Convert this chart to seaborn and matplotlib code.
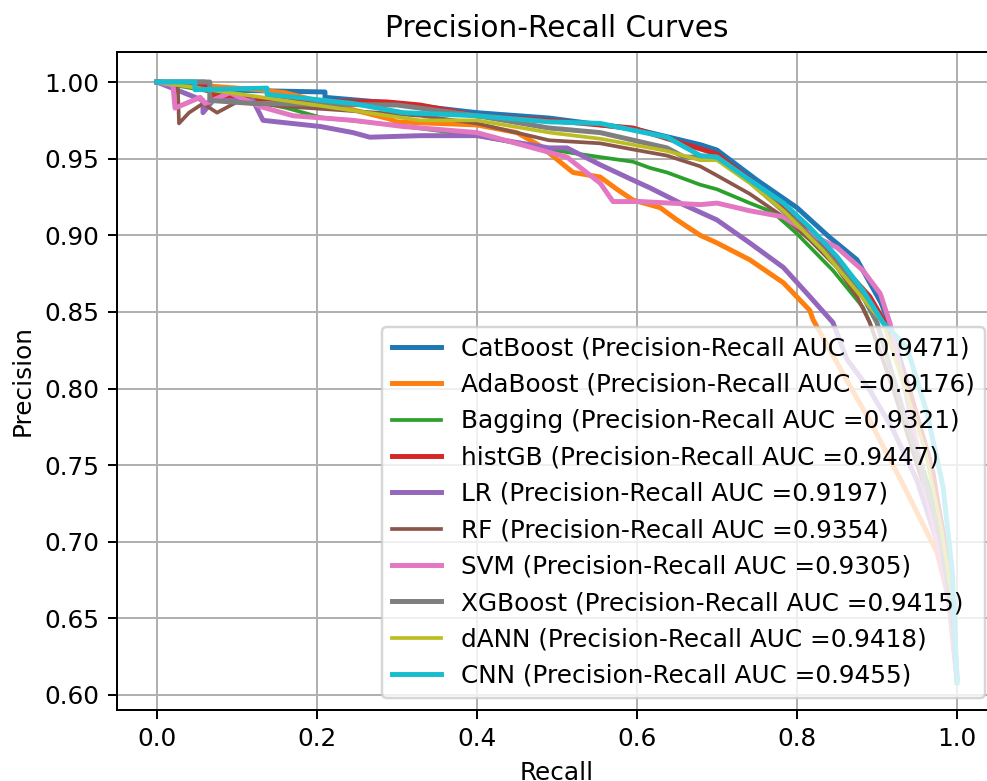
"""Precision-recall curves for the ten classifiers."""

import matplotlib
matplotlib.use("Agg")
import matplotlib.pyplot as plt
import numpy as np
import pandas as pd
import seaborn as sns

MODELS = ["CatBoost", "AdaBoost", "Bagging", "histGB", "LR", "RF", "SVM", "XGBoost", "dANN", "CNN"]
AUC = [0.9471, 0.9176, 0.9321, 0.9447, 0.9197, 0.9354, 0.9305, 0.9415, 0.9418, 0.9455]

catboost_recall = [0, 0.06, 0.06, 0.21, 0.21, 0.30, 0.40, 0.49, 0.60, 0.68, 0.70, 0.75, 0.80, 0.84,
                   0.875, 0.905, 0.915, 0.94, 0.965, 0.985, 0.995, 1.0]
catboost_precision = [1.0, 1.0, 0.995, 0.9935, 0.990, 0.986, 0.980, 0.9765, 0.969, 0.959, 0.9556, 0.936,
                      0.918, 0.899, 0.884, 0.856, 0.843, 0.80, 0.755, 0.70, 0.66, 0.61]

adaboost_recall = [0, 0.125, 0.16, 0.29, 0.30, 0.40, 0.45, 0.48, 0.52, 0.554, 0.575, 0.595, 0.629, 0.65,
                   0.679, 0.70, 0.741, 0.783, 0.816, 0.82, 0.8625, 0.891, 0.93, 0.975, 0.991, 1.0]
adaboost_precision = [1.0, 0.995, 0.993, 0.976, 0.974, 0.972, 0.967, 0.958, 0.941, 0.938, 0.930, 0.923,
                      0.918, 0.910, 0.900, 0.895, 0.884, 0.869, 0.851, 0.845, 0.805, 0.779, 0.740, 0.693,
                      0.66, 0.61]

bagging_recall = [0, 0.054, 0.1625, 0.204, 0.295, 0.40, 0.49, 0.554, 0.595, 0.616, 0.6375, 0.679, 0.70,
                  0.741, 0.77, 0.80, 0.845, 0.8825, 0.891, 0.92, 0.95, 0.975, 0.99, 1.0]
bagging_precision = [1.0, 0.995, 0.983, 0.977, 0.972, 0.965, 0.956, 0.951, 0.948, 0.944, 0.941, 0.933,
                     0.930, 0.921, 0.915, 0.901, 0.877, 0.853, 0.843, 0.80, 0.76, 0.72, 0.68, 0.61]

histgb_recall = [0, 0.06, 0.07, 0.17, 0.2875, 0.329, 0.40, 0.49, 0.595, 0.70, 0.80, 0.891, 0.91, 0.94,
                 0.97, 0.99, 1.0]
histgb_precision = [1.0, 0.998, 0.991, 0.988, 0.987, 0.985, 0.978, 0.975, 0.970, 0.953, 0.912, 0.860,
                    0.843, 0.80, 0.745, 0.68, 0.61]

lr_recall = [0, 0.0575, 0.0575, 0.07, 0.12, 0.1325, 0.204, 0.245, 0.266, 0.329, 0.40, 0.49, 0.5125,
             0.554, 0.595, 0.616, 0.658, 0.70, 0.741, 0.783, 0.816, 0.845, 0.8625, 0.891, 0.92, 0.95,
             0.975, 0.99, 1.0]
lr_precision = [1.0, 0.988, 0.980, 0.988, 0.988, 0.975, 0.971, 0.967, 0.964, 0.965, 0.965, 0.957, 0.957,
                0.946, 0.936, 0.931, 0.920, 0.910, 0.895, 0.879, 0.860, 0.843, 0.819, 0.799, 0.773,
                0.740, 0.70, 0.66, 0.61]

rf_recall = [0, 0.026, 0.0275, 0.04, 0.0575, 0.075, 0.1, 0.1625, 0.22, 0.33, 0.40, 0.49, 0.554, 0.595,
             0.6375, 0.679, 0.70, 0.741, 0.783, 0.816, 0.85, 0.875, 0.891, 0.92, 0.95, 0.975, 0.99, 1.0]
rf_precision = [1.0, 0.997, 0.973, 0.980, 0.986, 0.980, 0.987, 0.984, 0.982, 0.978, 0.973, 0.962, 0.960,
                0.956, 0.952, 0.945, 0.939, 0.927, 0.912, 0.897, 0.879, 0.860, 0.843, 0.80, 0.75, 0.71,
                0.67, 0.61]

svm_recall = [0, 0.02, 0.0225, 0.054, 0.06, 0.091, 0.129, 0.17, 0.245, 0.3075, 0.40, 0.491, 0.5125,
              0.554, 0.57, 0.604, 0.679, 0.70, 0.741, 0.783, 0.816, 0.85, 0.8825, 0.904, 0.916, 0.935,
              0.955, 0.975, 0.99, 1.0]
svm_precision = [1.0, 0.998, 0.983, 0.990, 0.986, 0.993, 0.984, 0.978, 0.975, 0.971, 0.967, 0.954,
                 0.951, 0.934, 0.922, 0.922, 0.920, 0.921, 0.916, 0.912, 0.901, 0.892, 0.877, 0.862,
                 0.843, 0.80, 0.75, 0.70, 0.66, 0.615]

xgboost_recall = [0, 0.066, 0.066, 0.12, 0.30, 0.40, 0.49, 0.554, 0.6375, 0.659, 0.70, 0.741, 0.80,
                  0.841, 0.8825, 0.90, 0.93, 0.96, 0.98, 0.995, 1.0]
xgboost_precision = [1.0, 1.0, 0.988, 0.986, 0.985, 0.978, 0.970, 0.967, 0.957, 0.951, 0.951, 0.935,
                     0.908, 0.886, 0.860, 0.843, 0.79, 0.74, 0.70, 0.65, 0.61]

dann_recall = [0, 0.329, 0.40, 0.491, 0.554, 0.6375, 0.679, 0.70, 0.741, 0.783, 0.8325, 0.866, 0.9075,
               0.935, 0.96, 0.98, 0.995, 1.0]
dann_precision = [1.0, 0.975, 0.975, 0.967, 0.963, 0.955, 0.949, 0.949, 0.934, 0.916, 0.890, 0.869,
                  0.843, 0.80, 0.76, 0.71, 0.66, 0.61]

cnn_recall = [0, 0.0475, 0.0475, 0.1375, 0.1375, 0.245, 0.3075, 0.40, 0.491, 0.554, 0.6375, 0.679,
              0.70, 0.741, 0.783, 0.816, 0.85, 0.8825, 0.9075, 0.9375, 0.9625, 0.9825, 0.994, 1.0]
cnn_precision = [1.0, 1.0, 0.995, 0.996, 0.992, 0.986, 0.980, 0.978, 0.974, 0.973, 0.964, 0.952, 0.951,
                 0.936, 0.921, 0.905, 0.886, 0.864, 0.843, 0.827, 0.784, 0.736, 0.681, 0.608]

RECALLS = [catboost_recall, adaboost_recall, bagging_recall, histgb_recall, lr_recall, rf_recall,
           svm_recall, xgboost_recall, dann_recall, cnn_recall]
PRECISIONS = [catboost_precision, adaboost_precision, bagging_precision, histgb_precision, lr_precision,
              rf_precision, svm_precision, xgboost_precision, dann_precision, cnn_precision]
COLORS = sns.color_palette("tab10", 10)
WIDTHS = [2, 2, 1.5, 2, 2, 1.5, 2, 2, 1.5, 2]

DPI = 178
fig = plt.figure(figsize=(987 / DPI, 781 / DPI), dpi=DPI)
ax = fig.add_axes([117 / 987, 71 / 781, 880 / 987, 658 / 781])

for name, auc, rec, prec, color, lw in zip(MODELS, AUC, RECALLS, PRECISIONS, COLORS, WIDTHS):
    df = pd.DataFrame({"Recall": rec, "Precision": prec})
    sns.lineplot(data=df, x="Recall", y="Precision", sort=False, estimator=None, ax=ax,
                 color=color, linewidth=lw, label=f"{name} (Precision-Recall AUC ={auc:.4f})")

ax.set_xlim(-0.05, 1.05)
ax.set_ylim(0.5902, 1.0196)
ax.set_xticks(np.arange(0, 1.01, 0.2))
ax.set_yticks(np.arange(0.60, 1.001, 0.05))
ax.set_yticklabels([f"{v:.2f}" for v in np.arange(0.60, 1.001, 0.05)])
ax.grid(True, color="#b0b0b0", linewidth=0.8)
ax.set_title("Precision-Recall Curves", fontsize=12)
ax.set_xlabel("Recall")
ax.set_ylabel("Precision")
ax.legend(loc="lower right", fontsize=10)

fig.savefig("out.png", dpi=DPI)
